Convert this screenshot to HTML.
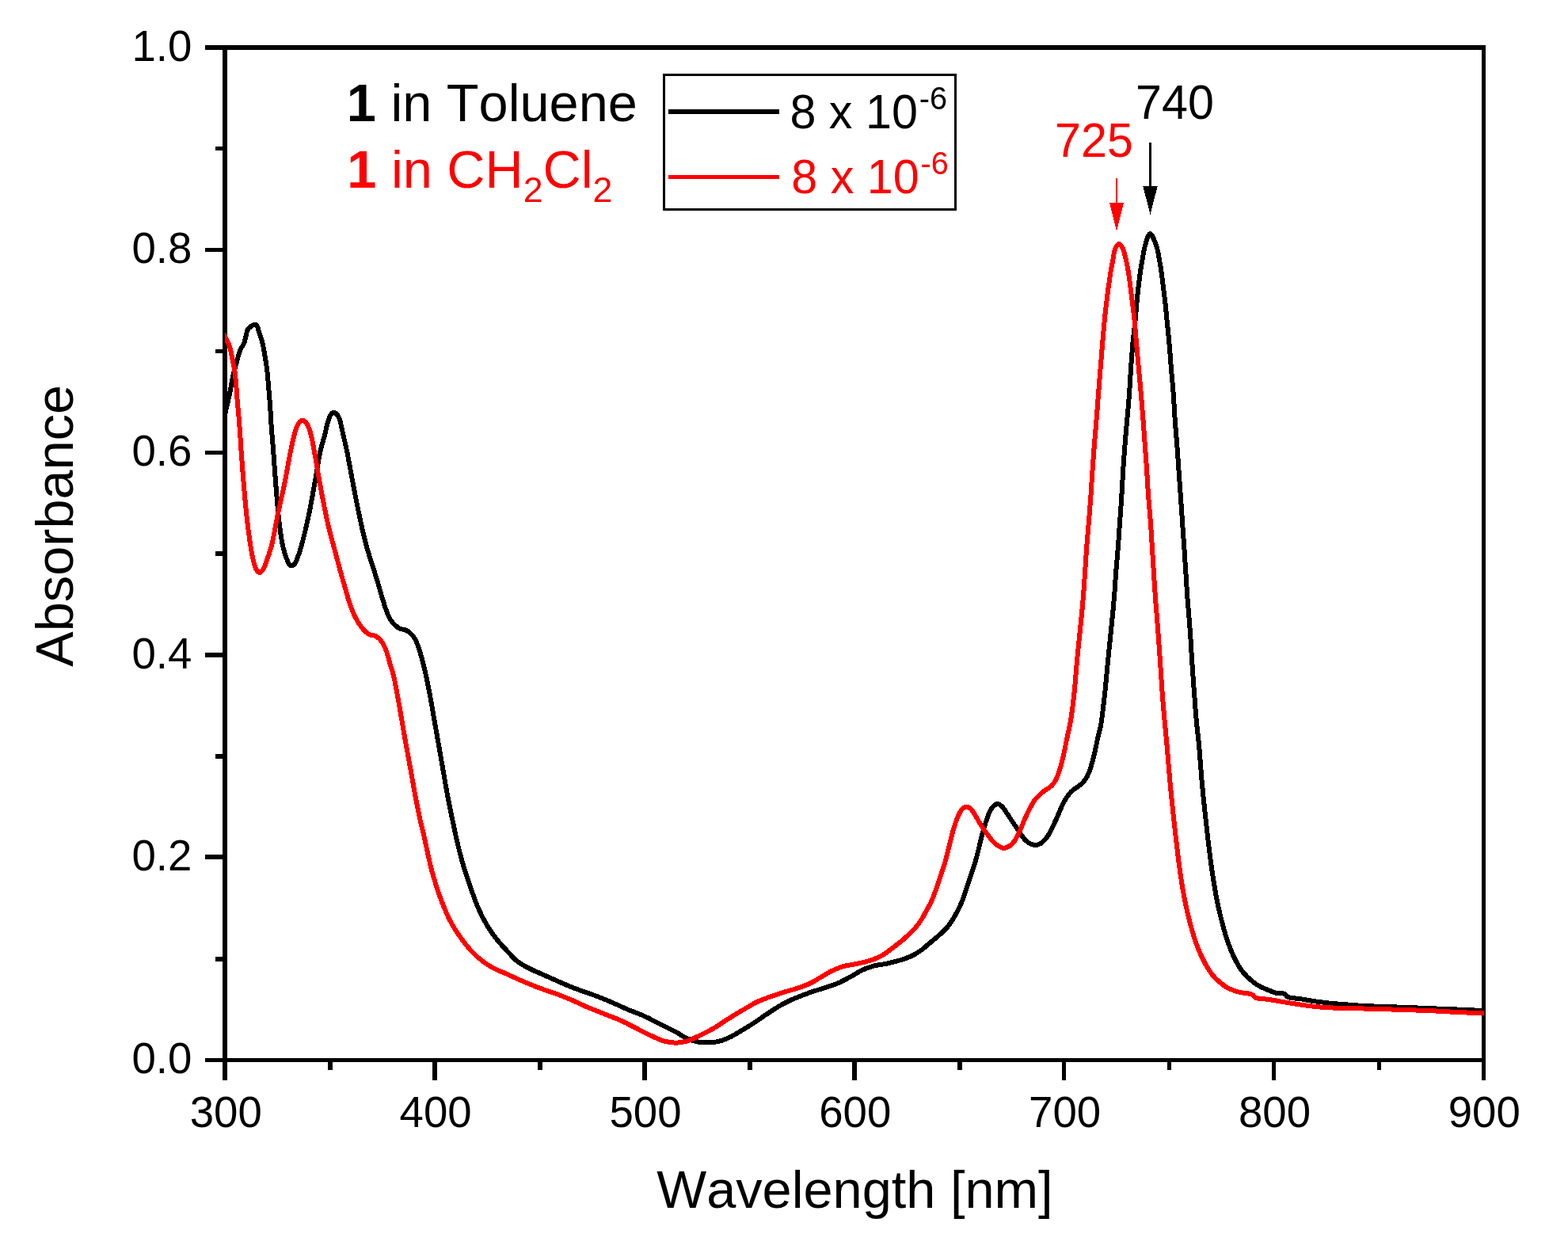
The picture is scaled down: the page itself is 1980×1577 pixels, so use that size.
<!DOCTYPE html>
<html lang="en"><head><meta charset="utf-8"><title>Absorbance spectra of 1 in Toluene and CH2Cl2</title>
<style>
html,body{margin:0;padding:0;background:#fff;}
body{width:1980px;height:1577px;overflow:hidden;}
svg{display:block;}
text{font-family:"Liberation Sans",Arial,Helvetica,sans-serif;font-kerning:none;white-space:pre;}
</style></head><body>
<svg width="1980" height="1577" viewBox="0 0 1980 1577">
<rect width="1980" height="1577" fill="#fff"/>
<g fill="#000" shape-rendering="crispEdges">
<rect x="259" y="57" width="1617" height="6"/>
<rect x="259" y="1336" width="1617" height="5"/>
<rect x="281" y="57" width="6" height="1307"/>
<rect x="1871" y="57" width="5" height="1307"/>
<rect x="414" y="1338" width="6" height="13"/>
<rect x="546" y="1338" width="6" height="26"/>
<rect x="679" y="1338" width="6" height="13"/>
<rect x="811" y="1338" width="6" height="26"/>
<rect x="944" y="1338" width="6" height="13"/>
<rect x="1076" y="1338" width="6" height="26"/>
<rect x="1209" y="1338" width="6" height="13"/>
<rect x="1341" y="1338" width="5" height="26"/>
<rect x="1474" y="1338" width="5" height="13"/>
<rect x="1606" y="1338" width="5" height="26"/>
<rect x="1739" y="1338" width="5" height="13"/>
<rect x="272" y="1208" width="12" height="6"/>
<rect x="259" y="1079" width="25" height="6"/>
<rect x="272" y="952" width="12" height="6"/>
<rect x="259" y="824" width="25" height="6"/>
<rect x="272" y="696" width="12" height="6"/>
<rect x="259" y="569" width="25" height="5"/>
<rect x="272" y="441" width="12" height="5"/>
<rect x="259" y="313" width="25" height="5"/>
<rect x="272" y="185" width="12" height="5"/>
</g>
<text transform="translate(285.30,1422.80) scale(1,1.028)" font-size="54.6" text-anchor="middle" fill="#000">300</text>
<text transform="translate(550.13,1422.80) scale(1,1.028)" font-size="54.6" text-anchor="middle" fill="#000">400</text>
<text transform="translate(814.97,1422.80) scale(1,1.028)" font-size="54.6" text-anchor="middle" fill="#000">500</text>
<text transform="translate(1079.80,1422.80) scale(1,1.028)" font-size="54.6" text-anchor="middle" fill="#000">600</text>
<text transform="translate(1344.63,1422.80) scale(1,1.028)" font-size="54.6" text-anchor="middle" fill="#000">700</text>
<text transform="translate(1609.47,1422.80) scale(1,1.028)" font-size="54.6" text-anchor="middle" fill="#000">800</text>
<text transform="translate(1874.30,1422.80) scale(1,1.028)" font-size="54.6" text-anchor="middle" fill="#000">900</text>
<text transform="translate(242.30,1355.10) scale(1,1.028)" font-size="54.6" text-anchor="end" fill="#000">0.0</text>
<text transform="translate(242.30,1099.40) scale(1,1.028)" font-size="54.6" text-anchor="end" fill="#000">0.2</text>
<text transform="translate(242.30,843.70) scale(1,1.028)" font-size="54.6" text-anchor="end" fill="#000">0.4</text>
<text transform="translate(242.30,588.00) scale(1,1.028)" font-size="54.6" text-anchor="end" fill="#000">0.6</text>
<text transform="translate(242.30,332.30) scale(1,1.028)" font-size="54.6" text-anchor="end" fill="#000">0.8</text>
<text transform="translate(242.30,76.60) scale(1,1.028)" font-size="54.6" text-anchor="end" fill="#000">1.0</text>
<text transform="translate(1079.40,1525.00)" font-size="66.7" text-anchor="middle" fill="#000">Wavelength [nm]</text>
<text transform="translate(92.00,663.80) rotate(-90)" font-size="66.7" text-anchor="middle" fill="#000">Absorbance</text>
<clipPath id="plotclip"><rect x="284" y="40" width="1592" height="1310"/></clipPath>
<g fill="none" stroke-linejoin="round" stroke-linecap="butt" clip-path="url(#plotclip)" shape-rendering="crispEdges">
<path stroke="#000" stroke-width="6.0" d="M280.0,541.0 L281.3,535.7 L282.6,530.2 L283.9,524.4 L285.2,518.5 L286.5,512.7 L287.8,506.9 L289.1,501.5 L290.4,495.3 L291.7,487.7 L293.0,480.5 L294.3,474.1 L295.6,468.9 L296.9,464.1 L298.2,459.3 L299.5,454.7 L300.8,450.0 L302.1,445.8 L303.4,441.9 L304.7,439.1 L306.0,437.4 L307.3,435.3 L308.6,431.8 L309.9,427.2 L311.2,421.0 L312.5,416.8 L313.8,414.8 L315.1,413.8 L316.4,412.8 L317.7,411.5 L319.0,410.5 L320.3,410.1 L321.6,409.9 L322.9,410.0 L324.2,410.4 L325.5,413.8 L326.8,418.4 L328.1,422.4 L329.4,425.8 L330.7,430.1 L332.0,435.5 L333.3,442.1 L334.6,449.8 L335.9,458.0 L337.2,466.6 L338.5,480.9 L339.8,496.6 L341.1,511.9 L342.4,534.1 L343.7,551.2 L345.0,567.3 L346.3,585.0 L347.6,602.7 L348.9,619.5 L350.2,635.9 L351.5,649.8 L352.8,661.2 L354.1,671.5 L355.4,680.4 L356.7,687.5 L358.0,693.0 L359.3,697.6 L360.6,701.5 L361.9,705.2 L363.2,708.9 L364.5,711.8 L365.8,713.2 L367.1,714.2 L368.4,714.5 L369.7,714.0 L371.0,712.9 L372.3,711.6 L373.6,709.3 L374.9,706.2 L376.2,702.8 L377.5,699.2 L378.8,695.2 L380.1,690.8 L381.4,686.2 L382.7,681.3 L384.0,676.2 L385.3,670.8 L386.6,665.3 L387.9,659.5 L389.2,653.5 L390.5,647.4 L391.8,640.9 L393.1,634.0 L394.4,627.0 L395.7,619.7 L397.0,612.5 L398.3,605.2 L399.6,597.5 L400.9,589.6 L402.2,581.8 L403.5,574.6 L404.8,568.4 L406.1,563.2 L407.4,558.6 L408.7,554.1 L410.0,549.5 L411.3,544.0 L412.6,538.1 L413.9,533.2 L415.2,529.0 L416.5,525.6 L417.8,523.5 L419.1,522.0 L420.4,520.9 L421.7,520.6 L423.0,521.2 L424.3,522.2 L425.6,523.4 L426.9,525.2 L428.2,527.8 L429.5,531.7 L430.8,537.2 L432.1,543.3 L433.4,549.1 L434.7,554.6 L436.0,560.0 L437.3,565.8 L438.6,572.1 L439.9,579.0 L441.2,586.1 L442.5,593.0 L443.8,600.0 L445.1,606.9 L446.4,613.9 L447.7,620.7 L449.0,627.4 L450.3,634.0 L451.6,640.4 L452.9,646.8 L454.2,653.0 L455.5,659.1 L456.8,665.1 L458.1,670.9 L459.4,676.3 L460.7,681.6 L462.0,686.6 L463.3,691.4 L464.6,695.9 L465.9,700.2 L467.2,704.2 L468.5,708.3 L469.8,712.4 L471.1,716.5 L472.4,720.5 L473.7,724.6 L475.0,728.7 L476.3,732.9 L477.6,737.3 L478.9,741.9 L480.2,746.5 L481.5,751.0 L482.8,755.3 L484.1,759.6 L485.4,763.8 L486.7,767.7 L488.0,771.3 L489.3,774.7 L490.6,777.9 L491.9,780.6 L493.2,782.7 L494.5,784.5 L495.8,786.1 L497.1,787.5 L498.4,788.8 L499.7,790.0 L501.0,791.2 L502.3,792.2 L503.6,793.0 L504.9,793.6 L506.2,794.0 L507.5,794.4 L508.8,794.7 L510.1,795.0 L511.4,795.3 L512.7,795.8 L514.0,796.3 L515.3,797.2 L516.6,798.2 L517.9,799.3 L519.2,800.6 L520.5,801.9 L521.8,803.5 L523.1,805.3 L524.4,807.4 L525.7,810.1 L527.0,813.4 L528.3,816.9 L529.6,820.9 L530.9,825.2 L532.2,829.7 L533.5,834.5 L534.8,839.6 L536.1,844.8 L537.4,850.4 L538.7,856.4 L540.0,862.7 L541.3,869.3 L542.6,876.1 L543.9,883.1 L545.2,890.4 L546.5,897.9 L547.8,905.5 L549.1,913.0 L550.4,920.4 L551.7,927.7 L553.0,935.0 L554.3,942.4 L555.6,949.8 L556.9,957.3 L558.2,964.7 L559.5,972.2 L560.8,979.7 L562.1,987.4 L563.4,994.9 L564.7,1002.1 L566.0,1008.9 L567.3,1015.5 L568.6,1022.0 L569.9,1028.3 L571.2,1034.5 L572.5,1040.7 L573.8,1046.9 L575.1,1053.0 L576.4,1058.9 L577.7,1064.6 L579.0,1070.0 L580.3,1075.2 L581.6,1080.2 L582.9,1085.0 L584.2,1089.6 L585.5,1094.1 L586.8,1098.4 L588.1,1102.6 L589.4,1106.6 L590.7,1110.5 L592.0,1114.3 L593.3,1118.1 L594.6,1121.8 L595.9,1125.5 L597.2,1129.1 L598.5,1132.7 L599.8,1136.2 L601.1,1139.7 L602.4,1142.9 L603.7,1146.0 L605.0,1148.9 L606.3,1151.7 L607.6,1154.4 L608.9,1157.1 L610.2,1159.6 L611.5,1162.1 L612.8,1164.4 L614.1,1166.7 L615.4,1168.8 L616.7,1171.0 L618.0,1173.0 L619.3,1175.0 L620.6,1176.9 L621.9,1178.8 L623.2,1180.6 L624.5,1182.4 L625.8,1184.1 L627.1,1185.8 L628.4,1187.4 L629.7,1188.9 L631.0,1190.5 L632.3,1191.9 L633.6,1193.4 L634.9,1194.8 L636.2,1196.2 L637.5,1197.6 L638.8,1199.0 L640.1,1200.4 L641.4,1201.8 L642.7,1203.2 L644.0,1204.7 L645.3,1206.1 L646.6,1207.5 L647.9,1208.8 L649.2,1210.1 L650.5,1211.4 L651.8,1212.6 L653.1,1213.7 L654.4,1214.6 L655.7,1215.6 L657.0,1216.4 L658.3,1217.2 L659.6,1218.0 L660.9,1218.8 L662.2,1219.5 L663.5,1220.2 L664.8,1220.8 L666.1,1221.5 L667.4,1222.2 L668.7,1222.8 L670.0,1223.4 L671.3,1224.1 L672.6,1224.7 L673.9,1225.4 L675.2,1226.0 L676.5,1226.5 L677.8,1227.1 L679.1,1227.7 L680.4,1228.3 L681.7,1228.8 L683.0,1229.4 L684.3,1230.0 L685.6,1230.5 L686.9,1231.1 L688.2,1231.7 L689.5,1232.2 L690.8,1232.8 L692.1,1233.4 L693.4,1234.0 L694.7,1234.6 L696.0,1235.2 L697.3,1235.8 L698.6,1236.3 L699.9,1236.9 L701.2,1237.5 L702.5,1238.1 L703.8,1238.7 L705.1,1239.3 L706.4,1239.9 L707.7,1240.4 L709.0,1241.0 L710.3,1241.6 L711.6,1242.1 L712.9,1242.7 L714.2,1243.2 L715.5,1243.7 L716.8,1244.3 L718.1,1244.8 L719.4,1245.3 L720.7,1245.9 L722.0,1246.4 L723.3,1246.9 L724.6,1247.4 L725.9,1247.9 L727.2,1248.4 L728.5,1248.9 L729.8,1249.4 L731.1,1249.9 L732.4,1250.4 L733.7,1250.8 L735.0,1251.3 L736.3,1251.8 L737.6,1252.2 L738.9,1252.7 L740.2,1253.1 L741.5,1253.5 L742.8,1254.0 L744.1,1254.4 L745.4,1254.9 L746.7,1255.3 L748.0,1255.8 L749.3,1256.3 L750.6,1256.7 L751.9,1257.2 L753.2,1257.7 L754.5,1258.2 L755.8,1258.7 L757.1,1259.2 L758.4,1259.7 L759.7,1260.2 L761.0,1260.8 L762.3,1261.3 L763.6,1261.8 L764.9,1262.4 L766.2,1262.9 L767.5,1263.4 L768.8,1264.0 L770.1,1264.5 L771.4,1265.1 L772.7,1265.6 L774.0,1266.2 L775.3,1266.8 L776.6,1267.4 L777.9,1268.0 L779.2,1268.5 L780.5,1269.1 L781.8,1269.7 L783.1,1270.3 L784.4,1270.9 L785.7,1271.5 L787.0,1272.1 L788.3,1272.7 L789.6,1273.3 L790.9,1273.8 L792.2,1274.4 L793.5,1274.9 L794.8,1275.5 L796.1,1276.0 L797.4,1276.5 L798.7,1277.0 L800.0,1277.5 L801.3,1278.0 L802.6,1278.5 L803.9,1279.0 L805.2,1279.5 L806.5,1280.0 L807.8,1280.5 L809.1,1281.0 L810.4,1281.6 L811.7,1282.1 L813.0,1282.7 L814.3,1283.3 L815.6,1283.9 L816.9,1284.6 L818.2,1285.2 L819.5,1285.8 L820.8,1286.5 L822.1,1287.2 L823.4,1287.8 L824.7,1288.5 L826.0,1289.2 L827.3,1289.9 L828.6,1290.6 L829.9,1291.2 L831.2,1291.9 L832.5,1292.5 L833.8,1293.2 L835.1,1293.8 L836.4,1294.5 L837.7,1295.1 L839.0,1295.8 L840.3,1296.4 L841.6,1297.0 L842.9,1297.7 L844.2,1298.3 L845.5,1298.9 L846.8,1299.6 L848.1,1300.2 L849.4,1300.9 L850.7,1301.6 L852.0,1302.2 L853.3,1302.9 L854.6,1303.6 L855.9,1304.4 L857.2,1305.2 L858.5,1306.0 L859.8,1306.8 L861.1,1307.6 L862.4,1308.4 L863.7,1309.1 L865.0,1309.8 L866.3,1310.5 L867.6,1311.2 L868.9,1311.7 L870.2,1312.2 L871.5,1312.7 L872.8,1313.2 L874.1,1313.6 L875.4,1314.0 L876.7,1314.4 L878.0,1314.8 L879.3,1315.1 L880.6,1315.4 L881.9,1315.6 L883.2,1315.7 L884.5,1315.8 L885.8,1315.9 L887.1,1316.1 L888.4,1316.2 L889.7,1316.2 L891.0,1316.3 L892.3,1316.4 L893.6,1316.4 L894.9,1316.4 L896.2,1316.4 L897.5,1316.3 L898.8,1316.2 L900.1,1316.0 L901.4,1315.9 L902.7,1315.7 L904.0,1315.5 L905.3,1315.2 L906.6,1315.0 L907.9,1314.8 L909.2,1314.4 L910.5,1314.1 L911.8,1313.7 L913.1,1313.2 L914.4,1312.7 L915.7,1312.2 L917.0,1311.6 L918.3,1311.0 L919.6,1310.5 L920.9,1309.9 L922.2,1309.3 L923.5,1308.7 L924.8,1308.0 L926.1,1307.3 L927.4,1306.6 L928.7,1305.8 L930.0,1305.1 L931.3,1304.3 L932.6,1303.5 L933.9,1302.7 L935.2,1301.9 L936.5,1301.2 L937.8,1300.4 L939.1,1299.6 L940.4,1298.8 L941.7,1298.0 L943.0,1297.2 L944.3,1296.4 L945.6,1295.6 L946.9,1294.8 L948.2,1294.0 L949.5,1293.1 L950.8,1292.3 L952.1,1291.4 L953.4,1290.6 L954.7,1289.7 L956.0,1288.9 L957.3,1288.0 L958.6,1287.1 L959.9,1286.2 L961.2,1285.3 L962.5,1284.4 L963.8,1283.4 L965.1,1282.5 L966.4,1281.6 L967.7,1280.8 L969.0,1279.9 L970.3,1279.0 L971.6,1278.2 L972.9,1277.3 L974.2,1276.5 L975.5,1275.6 L976.8,1274.8 L978.1,1273.9 L979.4,1273.1 L980.7,1272.3 L982.0,1271.5 L983.3,1270.7 L984.6,1270.0 L985.9,1269.2 L987.2,1268.5 L988.5,1267.8 L989.8,1267.1 L991.1,1266.5 L992.4,1265.8 L993.7,1265.1 L995.0,1264.5 L996.3,1263.9 L997.6,1263.2 L998.9,1262.6 L1000.2,1262.0 L1001.5,1261.5 L1002.8,1260.9 L1004.1,1260.3 L1005.4,1259.8 L1006.7,1259.3 L1008.0,1258.7 L1009.3,1258.2 L1010.6,1257.7 L1011.9,1257.2 L1013.2,1256.7 L1014.5,1256.2 L1015.8,1255.7 L1017.1,1255.3 L1018.4,1254.8 L1019.7,1254.3 L1021.0,1253.8 L1022.3,1253.4 L1023.6,1252.9 L1024.9,1252.5 L1026.2,1252.1 L1027.5,1251.6 L1028.8,1251.2 L1030.1,1250.8 L1031.4,1250.4 L1032.7,1249.9 L1034.0,1249.5 L1035.3,1249.1 L1036.6,1248.7 L1037.9,1248.2 L1039.2,1247.8 L1040.5,1247.4 L1041.8,1247.0 L1043.1,1246.6 L1044.4,1246.2 L1045.7,1245.7 L1047.0,1245.3 L1048.3,1244.9 L1049.6,1244.5 L1050.9,1244.1 L1052.2,1243.6 L1053.5,1243.2 L1054.8,1242.7 L1056.1,1242.2 L1057.4,1241.7 L1058.7,1241.1 L1060.0,1240.6 L1061.3,1240.0 L1062.6,1239.3 L1063.9,1238.7 L1065.2,1238.0 L1066.5,1237.3 L1067.8,1236.6 L1069.1,1235.9 L1070.4,1235.2 L1071.7,1234.5 L1073.0,1233.9 L1074.3,1233.1 L1075.6,1232.4 L1076.9,1231.7 L1078.2,1230.9 L1079.5,1230.1 L1080.8,1229.3 L1082.1,1228.5 L1083.4,1227.8 L1084.7,1227.0 L1086.0,1226.3 L1087.3,1225.6 L1088.6,1225.0 L1089.9,1224.4 L1091.2,1223.9 L1092.5,1223.3 L1093.8,1222.8 L1095.1,1222.3 L1096.4,1221.8 L1097.7,1221.3 L1099.0,1220.9 L1100.3,1220.5 L1101.6,1220.1 L1102.9,1219.8 L1104.2,1219.4 L1105.5,1219.1 L1106.8,1218.9 L1108.1,1218.6 L1109.4,1218.4 L1110.7,1218.2 L1112.0,1218.0 L1113.3,1217.8 L1114.6,1217.6 L1115.9,1217.3 L1117.2,1217.1 L1118.5,1216.9 L1119.8,1216.6 L1121.1,1216.3 L1122.4,1216.0 L1123.7,1215.7 L1125.0,1215.4 L1126.3,1215.1 L1127.6,1214.8 L1128.9,1214.5 L1130.2,1214.1 L1131.5,1213.8 L1132.8,1213.4 L1134.1,1213.1 L1135.4,1212.7 L1136.7,1212.3 L1138.0,1211.9 L1139.3,1211.5 L1140.6,1211.1 L1141.9,1210.6 L1143.2,1210.2 L1144.5,1209.7 L1145.8,1209.2 L1147.1,1208.7 L1148.4,1208.2 L1149.7,1207.6 L1151.0,1207.0 L1152.3,1206.4 L1153.6,1205.7 L1154.9,1205.0 L1156.2,1204.3 L1157.5,1203.5 L1158.8,1202.7 L1160.1,1201.8 L1161.4,1201.0 L1162.7,1200.1 L1164.0,1199.2 L1165.3,1198.1 L1166.6,1197.1 L1167.9,1196.0 L1169.2,1194.9 L1170.5,1193.7 L1171.8,1192.6 L1173.1,1191.5 L1174.4,1190.4 L1175.7,1189.3 L1177.0,1188.2 L1178.3,1187.1 L1179.6,1186.1 L1180.9,1185.0 L1182.2,1183.9 L1183.5,1182.8 L1184.8,1181.7 L1186.1,1180.5 L1187.4,1179.4 L1188.7,1178.2 L1190.0,1177.0 L1191.3,1175.8 L1192.6,1174.5 L1193.9,1173.2 L1195.2,1171.9 L1196.5,1170.4 L1197.8,1168.8 L1199.1,1167.0 L1200.4,1165.1 L1201.7,1163.1 L1203.0,1161.0 L1204.3,1158.9 L1205.6,1156.7 L1206.9,1154.4 L1208.2,1152.0 L1209.5,1149.6 L1210.8,1147.0 L1212.1,1144.2 L1213.4,1141.4 L1214.7,1138.3 L1216.0,1134.9 L1217.3,1131.3 L1218.6,1127.5 L1219.9,1123.6 L1221.2,1119.8 L1222.5,1116.0 L1223.8,1112.1 L1225.1,1108.2 L1226.4,1104.2 L1227.7,1100.3 L1229.0,1096.3 L1230.3,1092.3 L1231.6,1088.1 L1232.9,1083.5 L1234.2,1078.4 L1235.5,1073.1 L1236.8,1067.8 L1238.1,1062.5 L1239.4,1057.2 L1240.7,1052.2 L1242.0,1047.5 L1243.3,1043.0 L1244.6,1038.8 L1245.9,1034.9 L1247.2,1031.1 L1248.5,1027.7 L1249.8,1024.8 L1251.1,1022.4 L1252.4,1020.3 L1253.7,1018.7 L1255.0,1017.5 L1256.3,1016.4 L1257.6,1015.5 L1258.9,1015.0 L1260.2,1014.9 L1261.5,1015.4 L1262.8,1016.2 L1264.1,1017.3 L1265.4,1018.4 L1266.7,1019.8 L1268.0,1021.6 L1269.3,1023.6 L1270.6,1025.6 L1271.9,1027.5 L1273.2,1029.4 L1274.5,1031.4 L1275.8,1033.4 L1277.1,1035.3 L1278.4,1037.3 L1279.7,1039.2 L1281.0,1041.2 L1282.3,1043.1 L1283.6,1045.0 L1284.9,1047.0 L1286.2,1049.0 L1287.5,1051.0 L1288.8,1052.9 L1290.1,1054.7 L1291.4,1056.4 L1292.7,1058.2 L1294.0,1059.8 L1295.3,1061.1 L1296.6,1062.3 L1297.9,1063.4 L1299.2,1064.3 L1300.5,1065.1 L1301.8,1065.7 L1303.1,1066.1 L1304.4,1066.5 L1305.7,1066.8 L1307.0,1067.0 L1308.3,1067.0 L1309.6,1066.7 L1310.9,1066.3 L1312.2,1065.8 L1313.5,1065.2 L1314.8,1064.5 L1316.1,1063.5 L1317.4,1062.3 L1318.7,1061.0 L1320.0,1059.6 L1321.3,1058.0 L1322.6,1056.1 L1323.9,1054.1 L1325.2,1051.9 L1326.5,1049.6 L1327.8,1047.1 L1329.1,1044.5 L1330.4,1041.7 L1331.7,1038.9 L1333.0,1036.1 L1334.3,1033.1 L1335.6,1030.2 L1336.9,1027.2 L1338.2,1024.1 L1339.5,1021.0 L1340.8,1018.0 L1342.1,1015.3 L1343.4,1012.8 L1344.7,1010.5 L1346.0,1008.3 L1347.3,1006.4 L1348.6,1004.5 L1349.9,1002.7 L1351.2,1001.1 L1352.5,999.7 L1353.8,998.5 L1355.1,997.5 L1356.4,996.5 L1357.7,995.6 L1359.0,994.7 L1360.3,993.7 L1361.6,992.8 L1362.9,991.9 L1364.2,990.9 L1365.5,989.8 L1366.8,988.6 L1368.1,987.2 L1369.4,985.6 L1370.7,983.8 L1372.0,981.8 L1373.3,979.3 L1374.6,976.5 L1375.9,973.3 L1377.2,969.3 L1378.5,964.9 L1379.8,960.2 L1381.1,955.2 L1382.4,949.8 L1383.7,944.0 L1385.0,937.6 L1386.3,931.3 L1387.6,925.9 L1388.9,921.0 L1390.2,915.1 L1391.5,906.2 L1392.8,895.4 L1394.1,884.7 L1395.4,873.0 L1396.7,859.7 L1398.0,845.7 L1399.3,832.2 L1400.6,819.3 L1401.9,806.6 L1403.2,793.6 L1404.5,780.8 L1405.8,767.7 L1407.1,752.7 L1408.4,733.5 L1409.7,716.0 L1411.0,701.2 L1412.3,684.8 L1413.6,665.8 L1414.9,647.5 L1416.2,629.1 L1417.5,606.0 L1418.8,584.7 L1420.1,566.8 L1421.4,550.8 L1422.7,536.2 L1424.0,521.6 L1425.3,506.9 L1426.6,488.9 L1427.9,467.4 L1429.2,448.7 L1430.5,432.7 L1431.8,420.6 L1433.1,409.4 L1434.4,395.5 L1435.7,379.2 L1437.0,366.9 L1438.3,356.2 L1439.6,345.9 L1440.9,337.2 L1442.2,329.8 L1443.5,322.0 L1444.8,315.1 L1446.1,309.6 L1447.4,305.0 L1448.7,300.8 L1450.0,297.9 L1451.3,295.8 L1452.6,295.1 L1453.9,296.3 L1455.2,298.2 L1456.5,300.8 L1457.8,304.0 L1459.1,307.4 L1460.4,311.2 L1461.7,315.7 L1463.0,322.2 L1464.3,329.8 L1465.6,337.2 L1466.9,345.9 L1468.2,356.2 L1469.5,366.8 L1470.8,376.9 L1472.1,389.3 L1473.4,402.5 L1474.7,415.2 L1476.0,428.3 L1477.3,443.6 L1478.6,461.1 L1479.9,476.4 L1481.2,490.4 L1482.5,509.5 L1483.8,531.9 L1485.1,547.6 L1486.4,562.9 L1487.7,581.9 L1489.0,601.1 L1490.3,619.0 L1491.6,637.7 L1492.9,657.1 L1494.2,675.3 L1495.5,693.9 L1496.8,714.0 L1498.1,734.7 L1499.4,754.7 L1500.7,770.6 L1502.0,785.5 L1503.3,803.7 L1504.6,825.6 L1505.9,845.5 L1507.2,863.7 L1508.5,881.2 L1509.8,898.6 L1511.1,914.0 L1512.4,925.5 L1513.7,937.0 L1515.0,952.5 L1516.3,969.7 L1517.6,985.7 L1518.9,999.5 L1520.2,1012.5 L1521.5,1024.8 L1522.8,1036.8 L1524.1,1048.5 L1525.4,1059.8 L1526.7,1070.6 L1528.0,1080.9 L1529.3,1090.8 L1530.6,1099.9 L1531.9,1108.5 L1533.2,1116.7 L1534.5,1124.6 L1535.8,1131.9 L1537.1,1138.6 L1538.4,1144.8 L1539.7,1150.6 L1541.0,1156.0 L1542.3,1161.2 L1543.6,1166.2 L1544.9,1171.0 L1546.2,1175.7 L1547.5,1180.1 L1548.8,1184.3 L1550.1,1188.2 L1551.4,1191.9 L1552.7,1195.4 L1554.0,1198.7 L1555.3,1201.9 L1556.6,1204.9 L1557.9,1207.7 L1559.2,1210.4 L1560.5,1212.9 L1561.8,1215.4 L1563.1,1217.8 L1564.4,1220.0 L1565.7,1222.1 L1567.0,1224.0 L1568.3,1225.7 L1569.6,1227.4 L1570.9,1228.9 L1572.2,1230.4 L1573.5,1231.7 L1574.8,1233.1 L1576.1,1234.3 L1577.4,1235.5 L1578.7,1236.7 L1580.0,1237.8 L1581.3,1238.9 L1582.6,1239.9 L1583.9,1240.9 L1585.2,1241.9 L1586.5,1242.8 L1587.8,1243.6 L1589.1,1244.4 L1590.4,1245.1 L1591.7,1245.8 L1593.0,1246.5 L1594.3,1247.1 L1595.6,1247.7 L1596.9,1248.2 L1598.2,1248.8 L1599.5,1249.3 L1600.8,1249.8 L1602.1,1250.3 L1603.4,1250.9 L1604.7,1251.4 L1606.0,1252.0 L1607.3,1252.5 L1608.6,1253.0 L1609.9,1253.4 L1611.2,1253.7 L1612.5,1253.9 L1613.8,1254.0 L1615.1,1254.1 L1616.4,1254.2 L1617.7,1254.3 L1619.0,1254.4 L1620.3,1254.5 L1621.6,1254.7 L1622.9,1255.3 L1624.2,1256.9 L1625.5,1258.5 L1626.8,1259.1 L1628.1,1259.4 L1629.4,1259.7 L1630.7,1259.9 L1632.0,1260.1 L1633.3,1260.3 L1634.6,1260.4 L1635.9,1260.6 L1637.2,1260.7 L1638.5,1260.8 L1639.8,1261.0 L1641.1,1261.1 L1642.4,1261.3 L1643.7,1261.5 L1645.0,1261.7 L1646.3,1261.9 L1647.6,1262.2 L1648.9,1262.4 L1650.2,1262.6 L1651.5,1262.8 L1652.8,1263.0 L1654.1,1263.3 L1655.4,1263.5 L1656.7,1263.7 L1658.0,1263.9 L1659.3,1264.1 L1660.6,1264.3 L1661.9,1264.5 L1663.2,1264.7 L1664.5,1264.9 L1665.8,1265.0 L1667.1,1265.2 L1668.4,1265.4 L1669.7,1265.5 L1671.0,1265.7 L1672.3,1265.9 L1673.6,1266.0 L1674.9,1266.2 L1676.2,1266.3 L1677.5,1266.5 L1678.8,1266.6 L1680.1,1266.7 L1681.4,1266.9 L1682.7,1267.0 L1684.0,1267.1 L1685.3,1267.2 L1686.6,1267.3 L1687.9,1267.4 L1689.2,1267.6 L1690.5,1267.7 L1691.8,1267.8 L1693.1,1267.9 L1694.4,1268.0 L1695.7,1268.1 L1697.0,1268.1 L1698.3,1268.2 L1699.6,1268.3 L1700.9,1268.4 L1702.2,1268.5 L1703.5,1268.6 L1704.8,1268.7 L1706.1,1268.8 L1707.4,1268.9 L1708.7,1269.0 L1710.0,1269.1 L1711.3,1269.2 L1712.6,1269.3 L1713.9,1269.4 L1715.2,1269.5 L1716.5,1269.6 L1717.8,1269.7 L1719.1,1269.8 L1720.4,1269.8 L1721.7,1269.9 L1723.0,1270.0 L1724.3,1270.0 L1725.6,1270.1 L1726.9,1270.2 L1728.2,1270.2 L1729.5,1270.3 L1730.8,1270.3 L1732.1,1270.4 L1733.4,1270.4 L1734.7,1270.5 L1736.0,1270.5 L1737.3,1270.6 L1738.6,1270.6 L1739.9,1270.7 L1741.2,1270.7 L1742.5,1270.8 L1743.8,1270.8 L1745.1,1270.9 L1746.4,1270.9 L1747.7,1270.9 L1749.0,1271.0 L1750.3,1271.0 L1751.6,1271.1 L1752.9,1271.1 L1754.2,1271.2 L1755.5,1271.2 L1756.8,1271.2 L1758.1,1271.3 L1759.4,1271.3 L1760.7,1271.4 L1762.0,1271.4 L1763.3,1271.5 L1764.6,1271.5 L1765.9,1271.6 L1767.2,1271.6 L1768.5,1271.7 L1769.8,1271.7 L1771.1,1271.8 L1772.4,1271.8 L1773.7,1271.9 L1775.0,1271.9 L1776.3,1272.0 L1777.6,1272.0 L1778.9,1272.1 L1780.2,1272.1 L1781.5,1272.2 L1782.8,1272.2 L1784.1,1272.3 L1785.4,1272.3 L1786.7,1272.4 L1788.0,1272.4 L1789.3,1272.5 L1790.6,1272.5 L1791.9,1272.6 L1793.2,1272.6 L1794.5,1272.7 L1795.8,1272.7 L1797.1,1272.8 L1798.4,1272.9 L1799.7,1272.9 L1801.0,1273.0 L1802.3,1273.0 L1803.6,1273.1 L1804.9,1273.1 L1806.2,1273.2 L1807.5,1273.2 L1808.8,1273.3 L1810.1,1273.3 L1811.4,1273.4 L1812.7,1273.4 L1814.0,1273.5 L1815.3,1273.5 L1816.6,1273.6 L1817.9,1273.6 L1819.2,1273.7 L1820.5,1273.7 L1821.8,1273.8 L1823.1,1273.8 L1824.4,1273.9 L1825.7,1273.9 L1827.0,1274.0 L1828.3,1274.0 L1829.6,1274.1 L1830.9,1274.1 L1832.2,1274.2 L1833.5,1274.2 L1834.8,1274.3 L1836.1,1274.3 L1837.4,1274.4 L1838.7,1274.4 L1840.0,1274.5 L1841.3,1274.5 L1842.6,1274.6 L1843.9,1274.6 L1845.2,1274.7 L1846.5,1274.8 L1847.8,1274.8 L1849.1,1274.9 L1850.4,1274.9 L1851.7,1275.0 L1853.0,1275.1 L1854.3,1275.1 L1855.6,1275.2 L1856.9,1275.2 L1858.2,1275.3 L1859.5,1275.4 L1860.8,1275.4 L1862.1,1275.5 L1863.4,1275.6 L1864.7,1275.6 L1866.0,1275.7 L1867.3,1275.8 L1868.6,1275.8 L1869.9,1275.9 L1871.2,1276.0 L1872.5,1276.0 L1873.7,1276.1"/>
<path stroke="#f00" stroke-width="6.0" d="M280.0,417.5 L281.3,419.9 L282.6,422.3 L283.9,424.8 L285.2,427.3 L286.5,430.0 L287.8,432.6 L289.1,435.4 L290.4,439.1 L291.7,444.4 L293.0,450.7 L294.3,457.9 L295.6,464.1 L296.9,472.1 L298.2,485.7 L299.5,503.9 L300.8,518.3 L302.1,532.3 L303.4,551.8 L304.7,571.4 L306.0,589.0 L307.3,605.6 L308.6,621.1 L309.9,635.7 L311.2,648.9 L312.5,660.4 L313.8,671.0 L315.1,680.7 L316.4,689.3 L317.7,697.1 L319.0,703.9 L320.3,709.3 L321.6,714.2 L322.9,717.9 L324.2,720.0 L325.5,721.6 L326.8,722.7 L328.1,723.0 L329.4,722.3 L330.7,720.9 L332.0,719.2 L333.3,717.2 L334.6,714.3 L335.9,710.6 L337.2,706.8 L338.5,703.0 L339.8,699.2 L341.1,695.1 L342.4,690.6 L343.7,685.6 L345.0,679.6 L346.3,673.0 L347.6,666.0 L348.9,659.0 L350.2,652.2 L351.5,646.0 L352.8,640.1 L354.1,634.3 L355.4,628.6 L356.7,622.8 L358.0,616.8 L359.3,610.7 L360.6,604.1 L361.9,597.1 L363.2,589.9 L364.5,582.7 L365.8,575.7 L367.1,569.1 L368.4,562.8 L369.7,556.8 L371.0,551.3 L372.3,546.6 L373.6,542.4 L374.9,538.9 L376.2,536.2 L377.5,533.9 L378.8,532.4 L380.1,531.3 L381.4,530.7 L382.7,530.7 L384.0,531.4 L385.3,532.4 L386.6,533.8 L387.9,535.9 L389.2,538.4 L390.5,541.6 L391.8,545.6 L393.1,550.3 L394.4,556.5 L395.7,563.7 L397.0,570.8 L398.3,578.0 L399.6,585.5 L400.9,593.2 L402.2,600.7 L403.5,608.1 L404.8,615.2 L406.1,622.2 L407.4,629.0 L408.7,635.7 L410.0,642.3 L411.3,648.6 L412.6,654.7 L413.9,660.7 L415.2,666.4 L416.5,671.7 L417.8,676.7 L419.1,681.4 L420.4,686.1 L421.7,691.0 L423.0,695.9 L424.3,700.8 L425.6,705.7 L426.9,710.5 L428.2,715.3 L429.5,720.1 L430.8,724.8 L432.1,729.5 L433.4,734.1 L434.7,738.6 L436.0,743.1 L437.3,747.7 L438.6,752.1 L439.9,756.5 L441.2,760.6 L442.5,764.3 L443.8,767.9 L445.1,771.2 L446.4,774.4 L447.7,777.3 L449.0,779.9 L450.3,782.3 L451.6,784.6 L452.9,786.7 L454.2,788.7 L455.5,790.5 L456.8,792.3 L458.1,793.9 L459.4,795.4 L460.7,796.7 L462.0,797.9 L463.3,799.1 L464.6,800.1 L465.9,800.8 L467.2,801.3 L468.5,801.7 L469.8,801.9 L471.1,802.2 L472.4,802.5 L473.7,802.9 L475.0,803.5 L476.3,804.4 L477.6,805.4 L478.9,806.6 L480.2,807.9 L481.5,809.5 L482.8,811.4 L484.1,813.4 L485.4,816.0 L486.7,819.0 L488.0,822.4 L489.3,826.5 L490.6,831.1 L491.9,835.9 L493.2,840.7 L494.5,844.6 L495.8,848.6 L497.1,853.6 L498.4,859.6 L499.7,866.3 L501.0,873.3 L502.3,880.4 L503.6,887.5 L504.9,895.0 L506.2,902.6 L507.5,910.1 L508.8,917.7 L510.1,925.2 L511.4,932.7 L512.7,940.1 L514.0,947.3 L515.3,954.4 L516.6,961.3 L517.9,968.4 L519.2,975.5 L520.5,983.0 L521.8,990.4 L523.1,997.7 L524.4,1004.7 L525.7,1011.5 L527.0,1018.2 L528.3,1024.6 L529.6,1030.8 L530.9,1036.6 L532.2,1042.1 L533.5,1047.4 L534.8,1052.8 L536.1,1058.6 L537.4,1064.8 L538.7,1070.9 L540.0,1076.8 L541.3,1082.8 L542.6,1088.6 L543.9,1094.0 L545.2,1099.1 L546.5,1103.8 L547.8,1108.4 L549.1,1112.7 L550.4,1116.9 L551.7,1120.9 L553.0,1124.8 L554.3,1128.6 L555.6,1132.2 L556.9,1135.8 L558.2,1139.2 L559.5,1142.5 L560.8,1145.7 L562.1,1148.9 L563.4,1151.9 L564.7,1154.9 L566.0,1157.8 L567.3,1160.5 L568.6,1163.0 L569.9,1165.5 L571.2,1167.7 L572.5,1169.9 L573.8,1172.0 L575.1,1174.0 L576.4,1176.0 L577.7,1177.9 L579.0,1179.9 L580.3,1181.7 L581.6,1183.6 L582.9,1185.5 L584.2,1187.3 L585.5,1189.0 L586.8,1190.8 L588.1,1192.4 L589.4,1194.0 L590.7,1195.6 L592.0,1197.1 L593.3,1198.6 L594.6,1200.0 L595.9,1201.4 L597.2,1202.8 L598.5,1204.1 L599.8,1205.4 L601.1,1206.6 L602.4,1207.8 L603.7,1209.0 L605.0,1210.1 L606.3,1211.1 L607.6,1212.2 L608.9,1213.2 L610.2,1214.1 L611.5,1215.1 L612.8,1216.0 L614.1,1216.9 L615.4,1217.8 L616.7,1218.6 L618.0,1219.4 L619.3,1220.2 L620.6,1220.9 L621.9,1221.7 L623.2,1222.4 L624.5,1223.0 L625.8,1223.7 L627.1,1224.3 L628.4,1224.9 L629.7,1225.5 L631.0,1226.0 L632.3,1226.6 L633.6,1227.2 L634.9,1227.7 L636.2,1228.2 L637.5,1228.8 L638.8,1229.4 L640.1,1229.9 L641.4,1230.5 L642.7,1231.1 L644.0,1231.7 L645.3,1232.3 L646.6,1232.8 L647.9,1233.4 L649.2,1234.0 L650.5,1234.6 L651.8,1235.2 L653.1,1235.8 L654.4,1236.4 L655.7,1237.0 L657.0,1237.6 L658.3,1238.1 L659.6,1238.7 L660.9,1239.3 L662.2,1239.8 L663.5,1240.4 L664.8,1240.9 L666.1,1241.5 L667.4,1242.0 L668.7,1242.5 L670.0,1243.1 L671.3,1243.6 L672.6,1244.1 L673.9,1244.6 L675.2,1245.2 L676.5,1245.7 L677.8,1246.2 L679.1,1246.7 L680.4,1247.2 L681.7,1247.7 L683.0,1248.1 L684.3,1248.6 L685.6,1249.1 L686.9,1249.6 L688.2,1250.0 L689.5,1250.4 L690.8,1250.9 L692.1,1251.3 L693.4,1251.8 L694.7,1252.2 L696.0,1252.7 L697.3,1253.1 L698.6,1253.6 L699.9,1254.0 L701.2,1254.5 L702.5,1255.0 L703.8,1255.4 L705.1,1255.9 L706.4,1256.4 L707.7,1256.9 L709.0,1257.4 L710.3,1257.9 L711.6,1258.4 L712.9,1259.0 L714.2,1259.5 L715.5,1260.0 L716.8,1260.5 L718.1,1261.1 L719.4,1261.6 L720.7,1262.1 L722.0,1262.7 L723.3,1263.2 L724.6,1263.8 L725.9,1264.4 L727.2,1265.0 L728.5,1265.5 L729.8,1266.1 L731.1,1266.7 L732.4,1267.4 L733.7,1268.0 L735.0,1268.6 L736.3,1269.2 L737.6,1269.8 L738.9,1270.4 L740.2,1271.0 L741.5,1271.5 L742.8,1272.1 L744.1,1272.7 L745.4,1273.2 L746.7,1273.7 L748.0,1274.3 L749.3,1274.8 L750.6,1275.3 L751.9,1275.8 L753.2,1276.3 L754.5,1276.8 L755.8,1277.4 L757.1,1277.9 L758.4,1278.4 L759.7,1278.9 L761.0,1279.4 L762.3,1279.9 L763.6,1280.4 L764.9,1280.9 L766.2,1281.4 L767.5,1282.0 L768.8,1282.5 L770.1,1283.0 L771.4,1283.5 L772.7,1284.0 L774.0,1284.5 L775.3,1285.0 L776.6,1285.5 L777.9,1286.0 L779.2,1286.5 L780.5,1287.1 L781.8,1287.6 L783.1,1288.2 L784.4,1288.7 L785.7,1289.3 L787.0,1289.9 L788.3,1290.6 L789.6,1291.2 L790.9,1291.8 L792.2,1292.5 L793.5,1293.2 L794.8,1293.8 L796.1,1294.5 L797.4,1295.2 L798.7,1295.9 L800.0,1296.6 L801.3,1297.2 L802.6,1297.9 L803.9,1298.5 L805.2,1299.2 L806.5,1299.9 L807.8,1300.5 L809.1,1301.2 L810.4,1301.9 L811.7,1302.6 L813.0,1303.2 L814.3,1303.9 L815.6,1304.6 L816.9,1305.2 L818.2,1305.9 L819.5,1306.5 L820.8,1307.1 L822.1,1307.7 L823.4,1308.3 L824.7,1308.9 L826.0,1309.5 L827.3,1310.0 L828.6,1310.6 L829.9,1311.2 L831.2,1311.8 L832.5,1312.3 L833.8,1312.8 L835.1,1313.3 L836.4,1313.8 L837.7,1314.2 L839.0,1314.6 L840.3,1314.9 L841.6,1315.1 L842.9,1315.4 L844.2,1315.6 L845.5,1315.9 L846.8,1316.1 L848.1,1316.2 L849.4,1316.4 L850.7,1316.5 L852.0,1316.6 L853.3,1316.6 L854.6,1316.6 L855.9,1316.5 L857.2,1316.4 L858.5,1316.2 L859.8,1316.0 L861.1,1315.8 L862.4,1315.6 L863.7,1315.3 L865.0,1315.1 L866.3,1314.8 L867.6,1314.4 L868.9,1314.0 L870.2,1313.6 L871.5,1313.0 L872.8,1312.5 L874.1,1311.9 L875.4,1311.3 L876.7,1310.7 L878.0,1310.0 L879.3,1309.4 L880.6,1308.8 L881.9,1308.2 L883.2,1307.6 L884.5,1307.0 L885.8,1306.4 L887.1,1305.8 L888.4,1305.1 L889.7,1304.5 L891.0,1303.8 L892.3,1303.1 L893.6,1302.5 L894.9,1301.8 L896.2,1301.1 L897.5,1300.4 L898.8,1299.6 L900.1,1298.9 L901.4,1298.2 L902.7,1297.4 L904.0,1296.6 L905.3,1295.8 L906.6,1295.0 L907.9,1294.1 L909.2,1293.3 L910.5,1292.4 L911.8,1291.5 L913.1,1290.7 L914.4,1289.8 L915.7,1288.9 L917.0,1288.1 L918.3,1287.2 L919.6,1286.4 L920.9,1285.6 L922.2,1284.8 L923.5,1284.0 L924.8,1283.2 L926.1,1282.4 L927.4,1281.6 L928.7,1280.8 L930.0,1280.0 L931.3,1279.3 L932.6,1278.5 L933.9,1277.7 L935.2,1276.9 L936.5,1276.2 L937.8,1275.4 L939.1,1274.6 L940.4,1273.9 L941.7,1273.1 L943.0,1272.3 L944.3,1271.6 L945.6,1270.8 L946.9,1270.0 L948.2,1269.2 L949.5,1268.4 L950.8,1267.7 L952.1,1267.0 L953.4,1266.3 L954.7,1265.6 L956.0,1265.0 L957.3,1264.4 L958.6,1263.9 L959.9,1263.3 L961.2,1262.8 L962.5,1262.3 L963.8,1261.8 L965.1,1261.3 L966.4,1260.8 L967.7,1260.3 L969.0,1259.8 L970.3,1259.4 L971.6,1258.9 L972.9,1258.5 L974.2,1258.0 L975.5,1257.5 L976.8,1257.1 L978.1,1256.6 L979.4,1256.2 L980.7,1255.7 L982.0,1255.3 L983.3,1254.9 L984.6,1254.4 L985.9,1254.0 L987.2,1253.6 L988.5,1253.2 L989.8,1252.8 L991.1,1252.3 L992.4,1251.9 L993.7,1251.6 L995.0,1251.2 L996.3,1250.8 L997.6,1250.5 L998.9,1250.1 L1000.2,1249.7 L1001.5,1249.4 L1002.8,1249.0 L1004.1,1248.6 L1005.4,1248.2 L1006.7,1247.8 L1008.0,1247.4 L1009.3,1246.9 L1010.6,1246.5 L1011.9,1246.1 L1013.2,1245.6 L1014.5,1245.1 L1015.8,1244.6 L1017.1,1244.1 L1018.4,1243.6 L1019.7,1243.1 L1021.0,1242.5 L1022.3,1241.9 L1023.6,1241.3 L1024.9,1240.7 L1026.2,1240.0 L1027.5,1239.2 L1028.8,1238.5 L1030.1,1237.7 L1031.4,1236.9 L1032.7,1236.1 L1034.0,1235.3 L1035.3,1234.6 L1036.6,1233.8 L1037.9,1233.0 L1039.2,1232.3 L1040.5,1231.5 L1041.8,1230.7 L1043.1,1229.9 L1044.4,1229.1 L1045.7,1228.4 L1047.0,1227.6 L1048.3,1226.9 L1049.6,1226.3 L1050.9,1225.7 L1052.2,1225.1 L1053.5,1224.5 L1054.8,1223.9 L1056.1,1223.3 L1057.4,1222.8 L1058.7,1222.3 L1060.0,1221.8 L1061.3,1221.3 L1062.6,1220.9 L1063.9,1220.5 L1065.2,1220.1 L1066.5,1219.8 L1067.8,1219.5 L1069.1,1219.2 L1070.4,1219.0 L1071.7,1218.7 L1073.0,1218.5 L1074.3,1218.3 L1075.6,1218.0 L1076.9,1217.8 L1078.2,1217.6 L1079.5,1217.3 L1080.8,1217.1 L1082.1,1216.8 L1083.4,1216.6 L1084.7,1216.3 L1086.0,1216.0 L1087.3,1215.7 L1088.6,1215.4 L1089.9,1215.1 L1091.2,1214.8 L1092.5,1214.5 L1093.8,1214.1 L1095.1,1213.8 L1096.4,1213.4 L1097.7,1213.1 L1099.0,1212.7 L1100.3,1212.2 L1101.6,1211.8 L1102.9,1211.3 L1104.2,1210.8 L1105.5,1210.3 L1106.8,1209.7 L1108.1,1209.2 L1109.4,1208.6 L1110.7,1207.9 L1112.0,1207.3 L1113.3,1206.6 L1114.6,1205.9 L1115.9,1205.1 L1117.2,1204.3 L1118.5,1203.4 L1119.8,1202.5 L1121.1,1201.5 L1122.4,1200.5 L1123.7,1199.5 L1125.0,1198.5 L1126.3,1197.5 L1127.6,1196.5 L1128.9,1195.5 L1130.2,1194.5 L1131.5,1193.5 L1132.8,1192.5 L1134.1,1191.5 L1135.4,1190.5 L1136.7,1189.4 L1138.0,1188.4 L1139.3,1187.3 L1140.6,1186.2 L1141.9,1185.1 L1143.2,1183.9 L1144.5,1182.7 L1145.8,1181.6 L1147.1,1180.4 L1148.4,1179.1 L1149.7,1177.9 L1151.0,1176.6 L1152.3,1175.3 L1153.6,1173.9 L1154.9,1172.5 L1156.2,1171.0 L1157.5,1169.5 L1158.8,1167.8 L1160.1,1166.1 L1161.4,1164.2 L1162.7,1162.3 L1164.0,1160.3 L1165.3,1158.2 L1166.6,1155.9 L1167.9,1153.4 L1169.2,1151.0 L1170.5,1148.6 L1171.8,1146.3 L1173.1,1144.0 L1174.4,1141.6 L1175.7,1138.9 L1177.0,1136.0 L1178.3,1132.8 L1179.6,1129.4 L1180.9,1125.9 L1182.2,1122.4 L1183.5,1118.7 L1184.8,1115.0 L1186.1,1111.0 L1187.4,1107.0 L1188.7,1103.0 L1190.0,1099.1 L1191.3,1095.1 L1192.6,1091.1 L1193.9,1086.7 L1195.2,1082.0 L1196.5,1076.8 L1197.8,1071.4 L1199.1,1066.2 L1200.4,1060.9 L1201.7,1055.6 L1203.0,1050.6 L1204.3,1046.1 L1205.6,1041.8 L1206.9,1037.8 L1208.2,1034.3 L1209.5,1031.1 L1210.8,1028.3 L1212.1,1025.9 L1213.4,1023.6 L1214.7,1021.8 L1216.0,1020.7 L1217.3,1019.9 L1218.6,1019.2 L1219.9,1018.8 L1221.2,1018.7 L1222.5,1019.1 L1223.8,1019.9 L1225.1,1020.9 L1226.4,1022.0 L1227.7,1023.4 L1229.0,1025.3 L1230.3,1027.5 L1231.6,1029.6 L1232.9,1031.7 L1234.2,1034.0 L1235.5,1036.4 L1236.8,1038.7 L1238.1,1040.8 L1239.4,1042.8 L1240.7,1044.8 L1242.0,1046.7 L1243.3,1048.6 L1244.6,1050.5 L1245.9,1052.3 L1247.2,1054.1 L1248.5,1055.8 L1249.8,1057.5 L1251.1,1059.1 L1252.4,1060.7 L1253.7,1062.2 L1255.0,1063.5 L1256.3,1064.8 L1257.6,1065.9 L1258.9,1066.9 L1260.2,1067.9 L1261.5,1068.6 L1262.8,1069.3 L1264.1,1069.9 L1265.4,1070.5 L1266.7,1070.8 L1268.0,1070.8 L1269.3,1070.5 L1270.6,1070.1 L1271.9,1069.6 L1273.2,1069.0 L1274.5,1068.3 L1275.8,1067.4 L1277.1,1066.2 L1278.4,1064.9 L1279.7,1063.5 L1281.0,1061.9 L1282.3,1059.9 L1283.6,1057.6 L1284.9,1055.1 L1286.2,1052.5 L1287.5,1049.6 L1288.8,1046.6 L1290.1,1043.5 L1291.4,1040.4 L1292.7,1037.4 L1294.0,1034.3 L1295.3,1031.4 L1296.6,1028.6 L1297.9,1025.9 L1299.2,1023.3 L1300.5,1020.8 L1301.8,1018.3 L1303.1,1015.9 L1304.4,1013.5 L1305.7,1011.3 L1307.0,1009.5 L1308.3,1008.0 L1309.6,1006.7 L1310.9,1005.5 L1312.2,1004.3 L1313.5,1003.1 L1314.8,1001.9 L1316.1,1000.7 L1317.4,999.6 L1318.7,998.6 L1320.0,997.7 L1321.3,996.9 L1322.6,996.1 L1323.9,995.3 L1325.2,994.3 L1326.5,993.2 L1327.8,992.0 L1329.1,990.7 L1330.4,989.1 L1331.7,987.2 L1333.0,984.9 L1334.3,982.3 L1335.6,979.3 L1336.9,975.7 L1338.2,971.7 L1339.5,967.3 L1340.8,962.7 L1342.1,957.5 L1343.4,951.8 L1344.7,945.3 L1346.0,938.5 L1347.3,932.3 L1348.6,926.4 L1349.9,920.6 L1351.2,914.5 L1352.5,906.8 L1353.8,897.6 L1355.1,887.3 L1356.4,875.8 L1357.7,861.7 L1359.0,845.6 L1360.3,831.0 L1361.6,818.0 L1362.9,805.5 L1364.2,792.6 L1365.5,779.8 L1366.8,766.6 L1368.1,751.5 L1369.4,732.4 L1370.7,712.9 L1372.0,693.6 L1373.3,677.3 L1374.6,662.1 L1375.9,646.2 L1377.2,629.5 L1378.5,609.6 L1379.8,589.7 L1381.1,571.9 L1382.4,555.5 L1383.7,540.2 L1385.0,524.2 L1386.3,507.1 L1387.6,490.3 L1388.9,473.7 L1390.2,457.5 L1391.5,441.6 L1392.8,426.1 L1394.1,410.9 L1395.4,397.7 L1396.7,386.4 L1398.0,375.7 L1399.3,365.2 L1400.6,356.4 L1401.9,347.1 L1403.2,338.7 L1404.5,332.6 L1405.8,325.7 L1407.1,317.7 L1408.4,313.6 L1409.7,311.0 L1411.0,309.3 L1412.3,308.2 L1413.6,308.2 L1414.9,309.3 L1416.2,310.8 L1417.5,313.1 L1418.8,316.1 L1420.1,320.4 L1421.4,326.0 L1422.7,332.0 L1424.0,338.7 L1425.3,346.3 L1426.6,355.3 L1427.9,366.0 L1429.2,376.8 L1430.5,386.8 L1431.8,397.1 L1433.1,409.8 L1434.4,425.4 L1435.7,440.6 L1437.0,455.2 L1438.3,469.6 L1439.6,483.6 L1440.9,498.0 L1442.2,513.8 L1443.5,530.5 L1444.8,547.8 L1446.1,565.7 L1447.4,583.7 L1448.7,603.4 L1450.0,624.6 L1451.3,640.7 L1452.6,655.9 L1453.9,674.9 L1455.2,695.7 L1456.5,717.0 L1457.8,737.7 L1459.1,756.7 L1460.4,772.5 L1461.7,789.3 L1463.0,806.9 L1464.3,825.1 L1465.6,844.2 L1466.9,864.4 L1468.2,882.2 L1469.5,897.5 L1470.8,911.8 L1472.1,925.5 L1473.4,939.2 L1474.7,954.7 L1476.0,970.7 L1477.3,985.7 L1478.6,999.3 L1479.9,1012.3 L1481.2,1024.7 L1482.5,1036.9 L1483.8,1048.7 L1485.1,1060.0 L1486.4,1071.2 L1487.7,1082.1 L1489.0,1092.5 L1490.3,1102.0 L1491.6,1110.6 L1492.9,1118.8 L1494.2,1126.4 L1495.5,1133.5 L1496.8,1140.1 L1498.1,1146.2 L1499.4,1152.0 L1500.7,1157.5 L1502.0,1162.7 L1503.3,1167.6 L1504.6,1172.3 L1505.9,1176.8 L1507.2,1181.2 L1508.5,1185.3 L1509.8,1189.2 L1511.1,1192.8 L1512.4,1196.2 L1513.7,1199.5 L1515.0,1202.5 L1516.3,1205.5 L1517.6,1208.3 L1518.9,1210.9 L1520.2,1213.4 L1521.5,1215.9 L1522.8,1218.3 L1524.1,1220.5 L1525.4,1222.8 L1526.7,1224.9 L1528.0,1226.8 L1529.3,1228.7 L1530.6,1230.4 L1531.9,1231.9 L1533.2,1233.4 L1534.5,1234.8 L1535.8,1236.1 L1537.1,1237.3 L1538.4,1238.5 L1539.7,1239.6 L1541.0,1240.7 L1542.3,1241.7 L1543.6,1242.8 L1544.9,1243.8 L1546.2,1244.8 L1547.5,1245.7 L1548.8,1246.5 L1550.1,1247.2 L1551.4,1247.9 L1552.7,1248.5 L1554.0,1249.1 L1555.3,1249.6 L1556.6,1250.1 L1557.9,1250.6 L1559.2,1251.1 L1560.5,1251.5 L1561.8,1251.9 L1563.1,1252.3 L1564.4,1252.6 L1565.7,1252.9 L1567.0,1253.2 L1568.3,1253.4 L1569.6,1253.6 L1570.9,1253.8 L1572.2,1253.9 L1573.5,1254.1 L1574.8,1254.2 L1576.1,1254.4 L1577.4,1254.7 L1578.7,1255.0 L1580.0,1255.3 L1581.3,1255.7 L1582.6,1256.7 L1583.9,1258.4 L1585.2,1259.8 L1586.5,1260.1 L1587.8,1260.4 L1589.1,1260.6 L1590.4,1260.8 L1591.7,1261.0 L1593.0,1261.1 L1594.3,1261.2 L1595.6,1261.3 L1596.9,1261.4 L1598.2,1261.5 L1599.5,1261.6 L1600.8,1261.8 L1602.1,1261.9 L1603.4,1262.1 L1604.7,1262.3 L1606.0,1262.6 L1607.3,1262.8 L1608.6,1263.0 L1609.9,1263.2 L1611.2,1263.5 L1612.5,1263.7 L1613.8,1263.9 L1615.1,1264.2 L1616.4,1264.4 L1617.7,1264.6 L1619.0,1264.9 L1620.3,1265.1 L1621.6,1265.3 L1622.9,1265.5 L1624.2,1265.7 L1625.5,1266.0 L1626.8,1266.2 L1628.1,1266.4 L1629.4,1266.6 L1630.7,1266.8 L1632.0,1267.0 L1633.3,1267.2 L1634.6,1267.4 L1635.9,1267.6 L1637.2,1267.8 L1638.5,1268.0 L1639.8,1268.2 L1641.1,1268.4 L1642.4,1268.6 L1643.7,1268.8 L1645.0,1269.0 L1646.3,1269.1 L1647.6,1269.3 L1648.9,1269.5 L1650.2,1269.7 L1651.5,1269.8 L1652.8,1270.0 L1654.1,1270.2 L1655.4,1270.3 L1656.7,1270.5 L1658.0,1270.6 L1659.3,1270.8 L1660.6,1270.9 L1661.9,1271.0 L1663.2,1271.2 L1664.5,1271.3 L1665.8,1271.4 L1667.1,1271.5 L1668.4,1271.6 L1669.7,1271.7 L1671.0,1271.8 L1672.3,1271.9 L1673.6,1272.0 L1674.9,1272.1 L1676.2,1272.2 L1677.5,1272.2 L1678.8,1272.3 L1680.1,1272.4 L1681.4,1272.4 L1682.7,1272.5 L1684.0,1272.5 L1685.3,1272.6 L1686.6,1272.6 L1687.9,1272.7 L1689.2,1272.7 L1690.5,1272.8 L1691.8,1272.8 L1693.1,1272.8 L1694.4,1272.9 L1695.7,1272.9 L1697.0,1272.9 L1698.3,1273.0 L1699.6,1273.0 L1700.9,1273.0 L1702.2,1273.0 L1703.5,1273.1 L1704.8,1273.1 L1706.1,1273.1 L1707.4,1273.1 L1708.7,1273.2 L1710.0,1273.2 L1711.3,1273.2 L1712.6,1273.2 L1713.9,1273.3 L1715.2,1273.3 L1716.5,1273.3 L1717.8,1273.4 L1719.1,1273.4 L1720.4,1273.4 L1721.7,1273.5 L1723.0,1273.5 L1724.3,1273.5 L1725.6,1273.6 L1726.9,1273.6 L1728.2,1273.6 L1729.5,1273.7 L1730.8,1273.7 L1732.1,1273.7 L1733.4,1273.8 L1734.7,1273.8 L1736.0,1273.8 L1737.3,1273.9 L1738.6,1273.9 L1739.9,1274.0 L1741.2,1274.0 L1742.5,1274.0 L1743.8,1274.1 L1745.1,1274.1 L1746.4,1274.2 L1747.7,1274.2 L1749.0,1274.2 L1750.3,1274.3 L1751.6,1274.3 L1752.9,1274.3 L1754.2,1274.4 L1755.5,1274.4 L1756.8,1274.5 L1758.1,1274.5 L1759.4,1274.6 L1760.7,1274.6 L1762.0,1274.6 L1763.3,1274.7 L1764.6,1274.7 L1765.9,1274.8 L1767.2,1274.8 L1768.5,1274.8 L1769.8,1274.9 L1771.1,1274.9 L1772.4,1275.0 L1773.7,1275.0 L1775.0,1275.0 L1776.3,1275.1 L1777.6,1275.1 L1778.9,1275.2 L1780.2,1275.2 L1781.5,1275.3 L1782.8,1275.3 L1784.1,1275.3 L1785.4,1275.4 L1786.7,1275.4 L1788.0,1275.5 L1789.3,1275.5 L1790.6,1275.6 L1791.9,1275.6 L1793.2,1275.7 L1794.5,1275.7 L1795.8,1275.8 L1797.1,1275.8 L1798.4,1275.8 L1799.7,1275.9 L1801.0,1276.0 L1802.3,1276.0 L1803.6,1276.1 L1804.9,1276.1 L1806.2,1276.2 L1807.5,1276.2 L1808.8,1276.3 L1810.1,1276.3 L1811.4,1276.4 L1812.7,1276.5 L1814.0,1276.5 L1815.3,1276.6 L1816.6,1276.7 L1817.9,1276.8 L1819.2,1276.8 L1820.5,1276.9 L1821.8,1277.0 L1823.1,1277.0 L1824.4,1277.1 L1825.7,1277.2 L1827.0,1277.3 L1828.3,1277.3 L1829.6,1277.4 L1830.9,1277.5 L1832.2,1277.6 L1833.5,1277.6 L1834.8,1277.7 L1836.1,1277.8 L1837.4,1277.8 L1838.7,1277.9 L1840.0,1278.0 L1841.3,1278.0 L1842.6,1278.1 L1843.9,1278.1 L1845.2,1278.2 L1846.5,1278.2 L1847.8,1278.3 L1849.1,1278.4 L1850.4,1278.4 L1851.7,1278.5 L1853.0,1278.5 L1854.3,1278.6 L1855.6,1278.6 L1856.9,1278.7 L1858.2,1278.7 L1859.5,1278.7 L1860.8,1278.8 L1862.1,1278.8 L1863.4,1278.9 L1864.7,1278.9 L1866.0,1279.0 L1867.3,1279.0 L1868.6,1279.0 L1869.9,1279.1 L1871.2,1279.1 L1872.5,1279.2 L1873.7,1279.2"/>
</g>
<text transform="translate(437.80,153.20)" font-size="66.7" text-anchor="start" fill="#000"><tspan font-weight="bold">1</tspan> in Toluene</text>
<text transform="translate(438.30,237.00)" font-size="66.7" text-anchor="start" fill="#f00"><tspan font-weight="bold">1</tspan> in CH<tspan font-size="44.7" dy="17.8">2</tspan><tspan dy="-17.8">Cl</tspan><tspan font-size="44.7" dy="17.8">2</tspan></text>
<rect x="838.5" y="94.5" width="368" height="170" fill="#fff" stroke="#000" stroke-width="3" shape-rendering="crispEdges"/>
<rect x="844" y="138" width="140" height="6" rx="1.2" ry="1.2" fill="#000" shape-rendering="crispEdges"/>
<rect x="844" y="221" width="140" height="5" fill="#f00" shape-rendering="crispEdges"/>
<text transform="translate(997.40,162.30) scale(1,1.035)" font-size="59.3" text-anchor="start" fill="#000">8 x 10<tspan font-size="39.7" dx="1.8" dy="-23.3">-6</tspan></text>
<text transform="translate(999.30,244.10) scale(1,1.035)" font-size="59.3" text-anchor="start" fill="#f00">8 x 10<tspan font-size="39.7" dx="1.8" dy="-23.3">-6</tspan></text>
<text transform="translate(1434.10,149.80) scale(1,1.035)" font-size="59.3" text-anchor="start" fill="#000">740</text>
<text transform="translate(1332.10,197.90) scale(1,1.035)" font-size="59.3" text-anchor="start" fill="#f00">725</text>
<rect x="1451.0" y="180.0" width="3.0" height="57.0" fill="#000" shape-rendering="crispEdges"/><polygon points="1443.3,235.0 1461.7,235.0 1452.5,271.0" fill="#000" shape-rendering="crispEdges"/>
<rect x="1409.0" y="225.0" width="2.0" height="33.0" fill="#f00" shape-rendering="crispEdges"/><polygon points="1401.0,256.0 1419.0,256.0 1410.0,292.0" fill="#f00" shape-rendering="crispEdges"/>
</svg></body></html>
